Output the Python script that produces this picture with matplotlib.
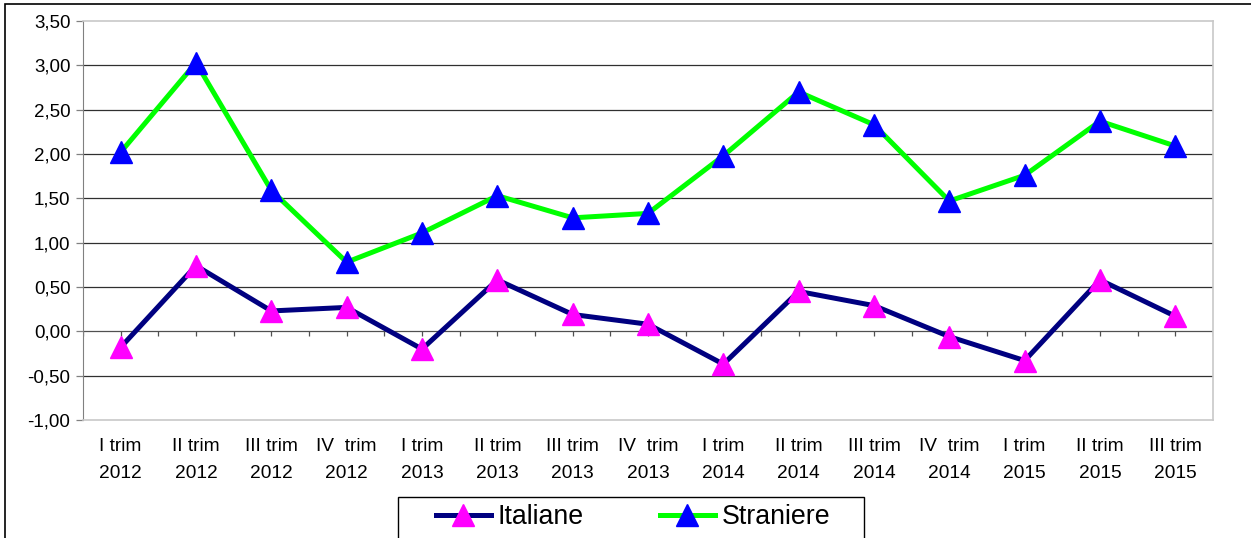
import numpy as np
import matplotlib
matplotlib.use("Agg")
import matplotlib.pyplot as plt
from matplotlib.patches import Rectangle

plt.rcParams['font.family'] = ['Liberation Sans', 'DejaVu Sans']

# data
quarters = ["I trim\n2012", "II trim\n2012", "III trim\n2012", "IV  trim\n2012",
            "I trim\n2013", "II trim\n2013", "III trim\n2013", "IV  trim\n2013",
            "I trim\n2014", "II trim\n2014", "III trim\n2014", "IV  trim\n2014",
            "I trim\n2015", "II trim\n2015", "III trim\n2015"]
italiane = [-0.18, 0.74, 0.23, 0.27, -0.20, 0.58, 0.19, 0.08,
            -0.37, 0.45, 0.29, -0.06, -0.33, 0.58, 0.17]
straniere = [2.02, 3.03, 1.59, 0.78, 1.11, 1.53, 1.28, 1.33,
             1.98, 2.70, 2.33, 1.47, 1.76, 2.37, 2.09]
yticks = np.arange(-1.0, 3.51, 0.5)

W, H = 1251, 538
fig = plt.figure(figsize=(W / 100, H / 100), dpi=100)
ax = fig.add_axes([83 / W, (H - 420) / H, (1213 - 83) / W, (420 - 21) / H])

x = np.arange(len(quarters))

# gridlines (not at the top border)
for yv in yticks[1:-1]:
    ax.axhline(yv, color='#303030' if yv != 0 else '#505050', linewidth=0.9, zorder=1)

# category ticks sitting on the zero line
tick_pos = np.arange(-0.5, len(quarters), 0.5)
ax.vlines(tick_pos, -0.05, 0, color='#505050', linewidth=0.9, zorder=1)

ax.plot(x, italiane, color='#000080', linewidth=3.6, marker='^', markersize=15.5,
        markerfacecolor='#FF00FF', markeredgecolor='#FF00FF', label='Italiane', zorder=3)
ax.plot(x, straniere, color='#00FF00', linewidth=3.6, marker='^', markersize=15.5,
        markerfacecolor='#0000FF', markeredgecolor='#0000FF', label='Straniere', zorder=3)

ax.set_xlim(-0.5, len(quarters) - 0.5)
ax.set_ylim(-1.0, 3.5)
ax.set_yticks(yticks)
ax.set_yticklabels([f"{v:.2f}".replace('.', ',') for v in yticks], fontsize=13.5)
ax.set_xticks(x)
ax.set_xticklabels(quarters, fontsize=13.8, linespacing=1.75)
ax.tick_params(axis='x', length=0, pad=13)
ax.tick_params(axis='y', length=5, width=0.9, color='#808080', pad=4)

ax.spines['left'].set_color('#808080')
for s in ['top', 'right', 'bottom']:
    ax.spines[s].set_color('#c8c8c8')
    ax.spines[s].set_linewidth(1.2)

# outer chart border (cut off on the right and bottom)
fig.patches.append(Rectangle((5 / W, -0.1), 1.2, (H - 4) / H + 0.1, transform=fig.transFigure,
                             fill=False, edgecolor='black', linewidth=1.2))

# legend box (cut off at the bottom)
fig.patches.append(Rectangle((398 / W, -0.1), (864 - 398) / W, (H - 497) / H + 0.1,
                             transform=fig.transFigure, fill=False, edgecolor='black',
                             linewidth=1.0, zorder=5))
handles, labels = ax.get_legend_handles_labels()
fig.legend(handles, labels, ncol=2, frameon=False, loc='center',
           bbox_to_anchor=(633 / W, (H - 517) / H), fontsize=19.3,
           handlelength=2.05, handletextpad=0.25, columnspacing=2.85)

fig.savefig("out.png", dpi=100)
